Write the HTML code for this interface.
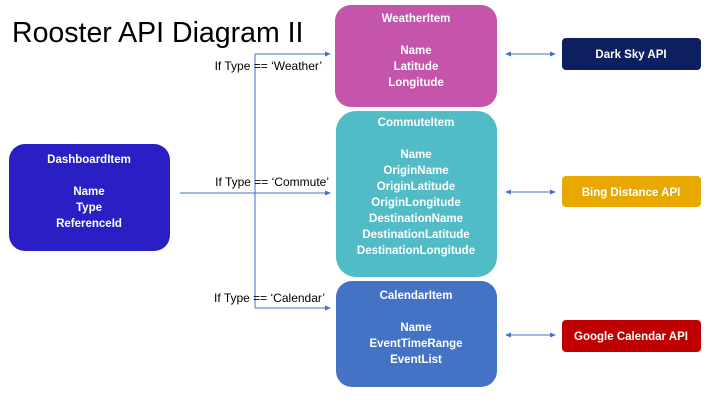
<!DOCTYPE html>
<html><head><meta charset="utf-8"><style>
html,body{margin:0;padding:0;background:#fff;width:720px;height:405px;overflow:hidden}
svg text{font-family:"Liberation Sans",sans-serif}
.w{fill:#fff;font-size:11.5px;text-anchor:middle;font-weight:bold}
.l{fill:#000;font-size:12px;text-anchor:end}
</style></head><body>
<svg width="720" height="405" viewBox="0 0 720 405" xmlns="http://www.w3.org/2000/svg">
<defs>
<marker id="a" markerWidth="6" markerHeight="6" refX="5" refY="3" orient="auto-start-reverse" markerUnits="userSpaceOnUse"><path d="M0,0.5 L6,3 L0,5.5 z" fill="#4472c4"/></marker>
</defs>
<text x="12" y="42" font-size="28.5" fill="#000" style="font-family:'Liberation Sans',sans-serif">Rooster API Diagram II</text>

<rect x="9" y="144" width="161" height="107" rx="16" fill="#2a1fc4"/>
<text class="w" x="89" y="163">DashboardItem</text>
<text class="w" x="89" y="195">Name</text>
<text class="w" x="89" y="211">Type</text>
<text class="w" x="89" y="227">ReferenceId</text>

<rect x="335" y="5" width="162" height="102" rx="16" fill="#c455ab"/>
<text class="w" x="416" y="22">WeatherItem</text>
<text class="w" x="416" y="54">Name</text>
<text class="w" x="416" y="70">Latitude</text>
<text class="w" x="416" y="86">Longitude</text>

<rect x="336" y="111" width="161" height="166" rx="20" fill="#52bcc6"/>
<text class="w" x="416" y="126">CommuteItem</text>
<text class="w" x="416" y="158">Name</text>
<text class="w" x="416" y="174">OriginName</text>
<text class="w" x="416" y="190">OriginLatitude</text>
<text class="w" x="416" y="206">OriginLongitude</text>
<text class="w" x="416" y="222">DestinationName</text>
<text class="w" x="416" y="238">DestinationLatitude</text>
<text class="w" x="416" y="254">DestinationLongitude</text>

<rect x="336" y="281" width="161" height="106" rx="16" fill="#4472c4"/>
<text class="w" x="416" y="299">CalendarItem</text>
<text class="w" x="416" y="331">Name</text>
<text class="w" x="416" y="347">EventTimeRange</text>
<text class="w" x="416" y="363">EventList</text>

<rect x="562" y="38" width="139" height="32" rx="4" fill="#0c1f5e"/>
<text class="w" x="631" y="58">Dark Sky API</text>
<rect x="562" y="176" width="139" height="31" rx="4" fill="#e8a800"/>
<text class="w" x="631" y="196">Bing Distance API</text>
<rect x="562" y="320" width="139" height="32" rx="4" fill="#c00000"/>
<text class="w" x="631" y="340">Google Calendar API</text>

<g stroke="#4472c4" stroke-width="1" fill="none">
<line x1="255" y1="54" x2="255" y2="308"/>
<line x1="255" y1="54" x2="330" y2="54" marker-end="url(#a)"/>
<line x1="180" y1="193" x2="330" y2="193" marker-end="url(#a)"/>
<line x1="255" y1="308" x2="330" y2="308" marker-end="url(#a)"/>
<line x1="506" y1="54" x2="555" y2="54" marker-start="url(#a)" marker-end="url(#a)"/>
<line x1="506" y1="192" x2="555" y2="192" marker-start="url(#a)" marker-end="url(#a)"/>
<line x1="506" y1="335" x2="555" y2="335" marker-start="url(#a)" marker-end="url(#a)"/>
</g>
<text class="l" x="322" y="70">If Type == ‘Weather’</text>
<text class="l" x="329" y="186">If Type == ‘Commute’</text>
<text class="l" x="325" y="302">If Type == ‘Calendar’</text>
</svg>
</body></html>
